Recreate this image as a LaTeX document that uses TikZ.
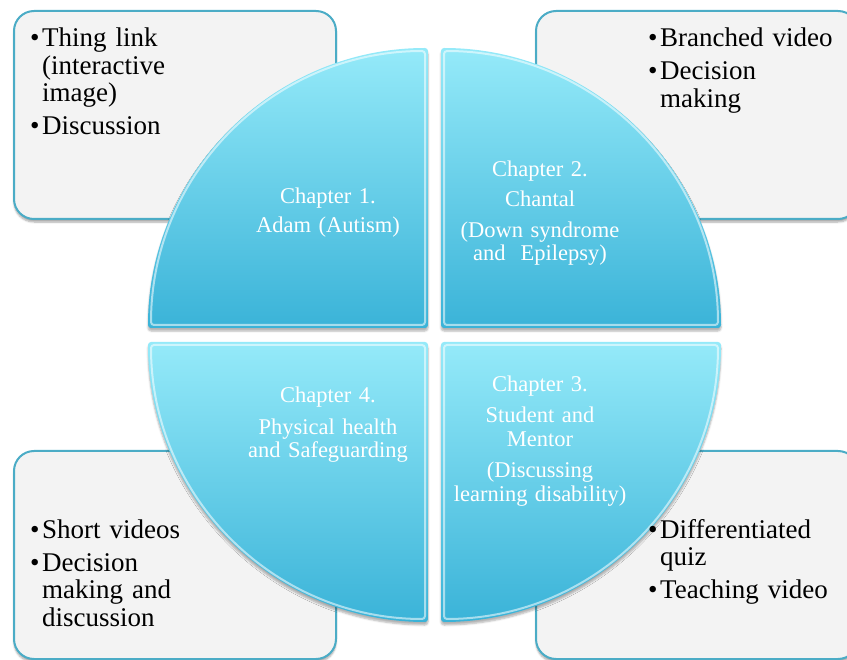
\documentclass[tikz,border=0pt]{standalone}
\usepackage{fontspec}
\setmainfont{Liberation Serif}
\usetikzlibrary{shadows.blur}
\definecolor{boxline}{HTML}{4BACC6}
\definecolor{boxfill}{HTML}{F3F3F3}
\definecolor{quadtop}{HTML}{95EAF9}
\definecolor{quadbot}{HTML}{3AB3D8}
\tikzstyle{box} = [draw=boxline, line width=2pt, fill=boxfill, rounded corners=20pt, anchor=north west, minimum width=322pt, minimum height=208pt, inner sep=0pt, blur shadow={shadow xshift=0pt, shadow yshift=-3pt, shadow opacity=35, shadow blur steps=6}]
\tikzstyle{quad} = [top color=quadtop, bottom color=quadbot, rounded corners=3pt, blur shadow={shadow xshift=0pt, shadow yshift=-3pt, shadow opacity=30, shadow blur steps=5}]
\tikzstyle{bevel} = [white, opacity=0.55, line width=2pt, rounded corners=3pt]
\tikzstyle{items} = [anchor=base west, inner sep=0pt, text width=300pt, align=left, font=\fontsize{27}{27.5}\selectfont]
\tikzstyle{chap} = [anchor=base, inner sep=0pt, text width=230pt, align=center, text=white, font=\fontsize{22.5}{23.5}\selectfont]
\newcommand{\itembul}{\makebox[12pt][l]{\textbullet}}
\newcommand{\itemind}{\hspace*{12pt}}

\begin{document}
\begin{tikzpicture}[x=1pt, y=-1pt]

    \clip (0,0) rectangle (847,660);

    % Activity boxes
    \node[box] (boxA) at (13,10) {};
    \node[box] (boxB) at (535,10) {};
    \node[box] (boxC) at (13,450) {};
    \node[box] (boxD) at (535,450) {};

    % Circle quarters
    \shade[quad] (428,328) -- (148,328) arc[start angle=180, end angle=270, radius=280] -- cycle;
    \shade[quad] (441,328) -- (441,48) arc[start angle=270, end angle=360, radius=280] -- cycle;
    \shade[quad] (428,342) -- (148,342) arc[start angle=180, end angle=90, radius=280] -- cycle;
    \shade[quad] (441,342) -- (721,342) arc[start angle=0, end angle=90, radius=280] -- cycle;

    % Bevel highlights
    \draw[bevel] (425,325) -- (151,325) arc[start angle=180, end angle=270, radius=274] -- cycle;
    \draw[bevel] (444,325) -- (444,51) arc[start angle=270, end angle=360, radius=274] -- cycle;
    \draw[bevel] (425,345) -- (151,345) arc[start angle=180, end angle=90, radius=274] -- cycle;
    \draw[bevel] (444,345) -- (718,345) arc[start angle=0, end angle=90, radius=274] -- cycle;

    % Chapter titles
    \node[chap] (chapA) at (328,204) {Chapter 1.\\[5.5pt] Adam (Autism)};
    \node[chap] (chapB) at (540,177) {Chapter 2.\\[6.5pt] Chantal\\[7pt] (Down syndrome\\ and\ \ Epilepsy)};
    \node[chap] (chapC) at (540,392) {Chapter 3.\\[7.5pt] Student and\\ Mentor\\[8pt] (Discussing\\ learning disability)};
    \node[chap] (chapD) at (328,403) {Chapter 4.\\[8pt] Physical health\\ and Safeguarding};

    % Activities
    \node[items] (itemsA) at (30,47) {\itembul Thing link\\ \itemind(interactive\\ \itemind image)\\[5.5pt] \itembul Discussion};
    \node[items] (itemsB) at (648,47) {\itembul Branched video\\[5.5pt] \itembul Decision\\ \itemind making};
    \node[items] (itemsC) at (30,538) {\itembul Short videos\\[6pt] \itembul Decision\\ \itemind making and\\ \itemind discussion};
    \node[items] (itemsD) at (648,538) {\itembul Differentiated\\ \itemind quiz\\[5.5pt] \itembul Teaching video};

\end{tikzpicture}
\end{document}
